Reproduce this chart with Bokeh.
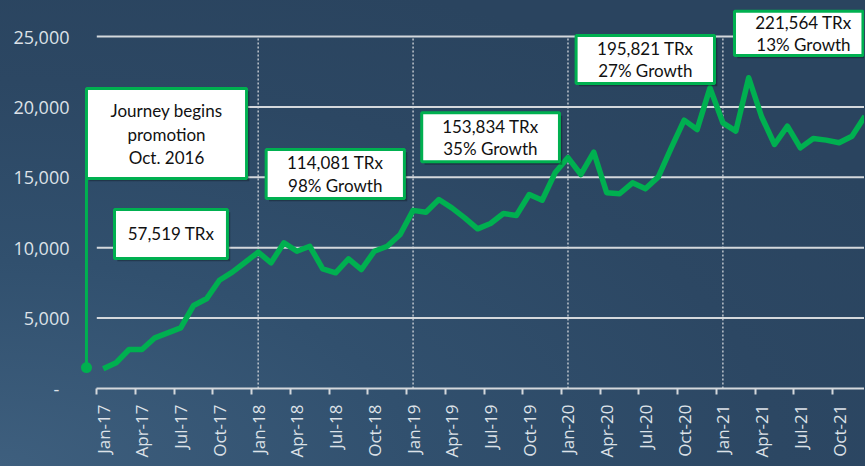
import math
from bokeh.plotting import figure
from bokeh.models import Range1d, FixedTicker, NumeralTickFormatter, GlobalInlineStyleSheet
from bokeh.core.properties import value
from bokeh.embed import file_html
from bokeh.resources import INLINE

# ---------------- data ----------------
month_names = ["Jan", "Feb", "Mar", "Apr", "May", "Jun",
               "Jul", "Aug", "Sep", "Oct", "Nov", "Dec"]
year_suffixes = ["17", "18", "19", "20", "21"]
month_labels = [f"{m}-{y}" for y in year_suffixes for m in month_names]

trx = [1400, 1830, 2770, 2770, 3600, 3950, 4310, 5900, 6370, 7690, 8260, 8970,
       9680, 8930, 10350, 9750, 10100, 8500, 8220, 9210, 8450, 9750, 10100, 10940,
       12650, 12520, 13420, 12830, 12120, 11340, 11720, 12430, 12290, 13780, 13370, 15320,
       16400, 15200, 16780, 13900, 13830, 14610, 14180, 15030, 17090, 19060, 18390, 21350,
       18870, 18280, 22070, 19300, 17330, 18630, 17090, 17760, 17640, 17450, 17920, 19340]

y_ticks = [0, 5000, 10000, 15000, 20000, 25000]
tick_step = 3

start_note = ["Journey begins", "promotion", "Oct. 2016"]
start_point_value = 1490

year_notes = [
    ["57,519 TRx"],
    ["114,081 TRx", "98% Growth"],
    ["153,834 TRx", "35% Growth"],
    ["195,821 TRx", "27% Growth"],
    ["221,564 TRx", "13% Growth"],
]

# ---------------- layout (annotation placement) ----------------
X0, X1 = -1.995, 58.97
Y0, Y1 = 0, 27060
GREEN = "#00b050"
LIGHT = "#dde2e8"

# boxes: (left, right, bottom, top) in data units, text center x, text line ys
start_box = (-1.30, 11.10, 14914, 21306)
start_text_x = 4.90
start_text_ys = [19744, 18039, 16406]
start_point_x = -1.30

note_boxes = [
    (0.87, 9.62, 9233, 12713),
    (12.62, 23.33, 13494, 16974),
    (24.67, 35.34, 16100, 19580),
    (36.63, 47.35, 21661, 25070),
    (48.90, 58.85, 23650, 26796),
]
note_text_x = [5.25, 17.97, 29.99, 41.99, 54.24]
note_text_ys = [[11008], [16029, 14417], [18629, 17045], [24126, 22584], [25972, 24431]]

p = figure(width=864, height=465, output_backend="svg", toolbar_location=None,
           x_range=Range1d(X0, X1), y_range=Range1d(Y0, Y1),
           min_border_left=77, min_border_right=0, min_border_top=7, min_border_bottom=77)
p.background_fill_color = None
p.border_fill_color = None
p.outline_line_color = None
p.xgrid.visible = False
p.ygrid.visible = False
p.stylesheets = [GlobalInlineStyleSheet(css=(
    "html, body { background: radial-gradient(ellipse 120% 110% at 0% 100%, "
    "#3e5f7e 0%, #31506e 40%, #2c4763 75%, #2a445f 100%) !important; "
    "min-height: 100%; }"))]

# gridlines
for yv in y_ticks[1:]:
    p.segment(x0=-0.5, x1=X1 + 1, y0=yv, y1=yv, line_color="#d4d8dc", line_width=2)

# dashed year separators
year_starts = [i for i, l in enumerate(month_labels) if l.startswith("Jan") and i > 0]
for xi in year_starts:
    p.segment(x0=xi, x1=xi, y0=0, y1=y_ticks[-1], line_color="#d4d8dc",
              line_width=1.3, line_dash="2 2")

# main line
xs = list(range(len(trx)))
p.line(xs, trx, line_color=GREEN, line_width=5.5, line_join="round")

# start marker
p.segment(x0=start_point_x, x1=start_point_x, y0=start_point_value, y1=start_box[2],
          line_color=GREEN, line_width=3)
p.scatter([start_point_x], [start_point_value], size=11, fill_color=GREEN, line_color=None)

# shadows
dx, dy = 0.22, 200
all_boxes = [start_box] + note_boxes
p.quad(left=[b[0] + dx for b in all_boxes], right=[b[1] + dx for b in all_boxes],
       bottom=[b[2] - dy for b in all_boxes], top=[b[3] - dy for b in all_boxes],
       fill_color="black", fill_alpha=0.28, line_color=None)
p.quad(left=[b[0] for b in all_boxes], right=[b[1] for b in all_boxes],
       bottom=[b[2] for b in all_boxes], top=[b[3] for b in all_boxes],
       fill_color="white", line_color=GREEN, line_width=3)

tx, ty, tt = [], [], []
for line, yv in zip(start_note, start_text_ys):
    tx.append(start_text_x); ty.append(yv); tt.append(line)
for lines, cx, ys in zip(year_notes, note_text_x, note_text_ys):
    for line, yv in zip(lines, ys):
        tx.append(cx); ty.append(yv); tt.append(line)
p.text(x=tx, y=ty, text=tt, text_font=value("Lato"), text_font_size="17px",
       text_color="#111111", text_align="center", text_baseline="middle")

# x axis
xa = p.xaxis[0]
xa.ticker = FixedTicker(ticks=list(range(0, len(trx), tick_step)),
                        minor_ticks=[i - 0.5 for i in range(0, len(trx), tick_step)])
xa.major_label_overrides = {i: month_labels[i] for i in range(0, len(trx), tick_step)}
xa.bounds = (-0.5, len(trx) - 0.5)
xa.axis_line_color = "#d4d8dc"
xa.axis_line_width = 2
xa.major_tick_line_color = None
xa.major_tick_out = 0
xa.major_tick_in = 0
xa.minor_tick_line_color = "#d4d8dc"
xa.minor_tick_line_width = 2
xa.minor_tick_out = 6
xa.minor_tick_in = 0
xa.major_label_orientation = math.pi / 2
xa.major_label_text_font = "Open Sans"
xa.major_label_text_font_size = "17px"
xa.major_label_text_color = LIGHT
xa.major_label_standoff = 10

# y axis
ya = p.yaxis[0]
ya.ticker = FixedTicker(ticks=y_ticks)
ya.formatter = NumeralTickFormatter(format="0,0")
ya.major_label_overrides = {0: "-\u2007"}
ya.axis_line_color = None
ya.major_tick_line_color = None
ya.minor_tick_line_color = None
ya.major_tick_out = 0
ya.major_tick_in = 0
ya.major_label_text_font = "Open Sans"
ya.major_label_text_font_size = "18px"
ya.major_label_text_color = LIGHT
ya.major_label_standoff = 8

open("out.html", "w").write(file_html(p, INLINE))
